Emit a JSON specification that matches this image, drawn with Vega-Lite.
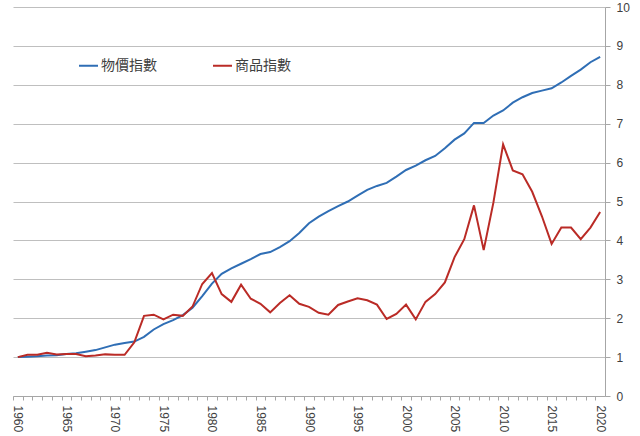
{
  "$schema": "https://vega.github.io/schema/vega-lite/v6.json",
  "width": 592,
  "height": 389,
  "autosize": "none",
  "padding": {"left": 13, "top": 7, "right": 35, "bottom": 40},
  "background": "white",
  "config": {"view": {"stroke": null}, "font": "Liberation Sans"},
  "data": {"values": [
    {"year": 1960, "物價指數": 1.00, "商品指數": 1.00},
    {"year": 1961, "物價指數": 1.01, "商品指數": 1.06},
    {"year": 1962, "物價指數": 1.02, "商品指數": 1.06},
    {"year": 1963, "物價指數": 1.04, "商品指數": 1.11},
    {"year": 1964, "物價指數": 1.05, "商品指數": 1.07},
    {"year": 1965, "物價指數": 1.08, "商品指數": 1.08},
    {"year": 1966, "物價指數": 1.10, "商品指數": 1.08},
    {"year": 1967, "物價指數": 1.14, "商品指數": 1.02},
    {"year": 1968, "物價指數": 1.18, "商品指數": 1.04},
    {"year": 1969, "物價指數": 1.25, "商品指數": 1.07},
    {"year": 1970, "物價指數": 1.32, "商品指數": 1.06},
    {"year": 1971, "物價指數": 1.36, "商品指數": 1.06},
    {"year": 1972, "物價指數": 1.40, "商品指數": 1.38},
    {"year": 1973, "物價指數": 1.52, "商品指數": 2.06},
    {"year": 1974, "物價指數": 1.71, "商品指數": 2.09},
    {"year": 1975, "物價指數": 1.85, "商品指數": 1.97},
    {"year": 1976, "物價指數": 1.95, "商品指數": 2.09},
    {"year": 1977, "物價指數": 2.08, "商品指數": 2.06},
    {"year": 1978, "物價指數": 2.27, "商品指數": 2.30},
    {"year": 1979, "物價指數": 2.57, "商品指數": 2.88},
    {"year": 1980, "物價指數": 2.89, "商品指數": 3.16},
    {"year": 1981, "物價指數": 3.14, "商品指數": 2.62},
    {"year": 1982, "物價指數": 3.28, "商品指數": 2.42},
    {"year": 1983, "物價指數": 3.40, "商品指數": 2.86},
    {"year": 1984, "物價指數": 3.52, "商品指數": 2.50},
    {"year": 1985, "物價指數": 3.65, "商品指數": 2.37},
    {"year": 1986, "物價指數": 3.70, "商品指數": 2.15},
    {"year": 1987, "物價指數": 3.83, "商品指數": 2.39},
    {"year": 1988, "物價指數": 3.98, "商品指數": 2.59},
    {"year": 1989, "物價指數": 4.19, "商品指數": 2.37},
    {"year": 1990, "物價指數": 4.44, "商品指數": 2.29},
    {"year": 1991, "物價指數": 4.61, "商品指數": 2.14},
    {"year": 1992, "物價指數": 4.75, "商品指數": 2.09},
    {"year": 1993, "物價指數": 4.88, "商品指數": 2.34},
    {"year": 1994, "物價指數": 5.00, "商品指數": 2.43},
    {"year": 1995, "物價指數": 5.15, "商品指數": 2.51},
    {"year": 1996, "物價指數": 5.30, "商品指數": 2.46},
    {"year": 1997, "物價指數": 5.40, "商品指數": 2.35},
    {"year": 1998, "物價指數": 5.48, "商品指數": 1.98},
    {"year": 1999, "物價指數": 5.64, "商品指數": 2.11},
    {"year": 2000, "物價指數": 5.81, "商品指數": 2.35},
    {"year": 2001, "物價指數": 5.92, "商品指數": 1.97},
    {"year": 2002, "物價指數": 6.06, "商品指數": 2.42},
    {"year": 2003, "物價指數": 6.17, "商品指數": 2.62},
    {"year": 2004, "物價指數": 6.37, "商品指數": 2.92},
    {"year": 2005, "物價指數": 6.59, "商品指數": 3.57},
    {"year": 2006, "物價指數": 6.75, "商品指數": 4.03},
    {"year": 2007, "物價指數": 7.02, "商品指數": 4.90},
    {"year": 2008, "物價指數": 7.02, "商品指數": 3.75},
    {"year": 2009, "物價指數": 7.21, "商品指數": 4.97},
    {"year": 2010, "物價指數": 7.34, "商品指數": 6.47},
    {"year": 2011, "物價指數": 7.54, "商品指數": 5.80},
    {"year": 2012, "物價指數": 7.68, "商品指數": 5.70},
    {"year": 2013, "物價指數": 7.79, "商品指數": 5.25},
    {"year": 2014, "物價指數": 7.85, "商品指數": 4.62},
    {"year": 2015, "物價指數": 7.91, "商品指數": 3.91},
    {"year": 2016, "物價指數": 8.06, "商品指數": 4.33},
    {"year": 2017, "物價指數": 8.23, "商品指數": 4.33},
    {"year": 2018, "物價指數": 8.39, "商品指數": 4.03},
    {"year": 2019, "物價指數": 8.58, "商品指數": 4.33},
    {"year": 2020, "物價指數": 8.72, "商品指數": 4.73}
  ]},
  "transform": [{"fold": ["物價指數", "商品指數"], "as": ["series", "value"]}],
  "mark": {"type": "line", "strokeWidth": 2},
  "encoding": {
    "x": {
      "field": "year",
      "type": "quantitative",
      "scale": {"domain": [1959.5, 2020.5], "nice": false, "zero": false},
      "axis": {
        "title": null,
        "grid": false,
        "values": [1960,1961,1962,1963,1964,1965,1966,1967,1968,1969,1970,1971,1972,1973,1974,1975,1976,1977,1978,1979,1980,1981,1982,1983,1984,1985,1986,1987,1988,1989,1990,1991,1992,1993,1994,1995,1996,1997,1998,1999,2000,2001,2002,2003,2004,2005,2006,2007,2008,2009,2010,2011,2012,2013,2014,2015,2016,2017,2018,2019,2020],
        "format": "d",
        "labelExpr": "datum.value % 5 == 0 ? datum.label : ''",
        "labelAngle": 90,
        "labelAlign": "left",
        "labelBaseline": "middle",
        "labelOverlap": false,
        "labelFlush": false,
        "tickOffset": -4.85,
        "labelOffset": 4.85,
        "tickSize": 4,
        "labelPadding": 5,
        "domainColor": "#A6A6A6",
        "tickColor": "#A6A6A6",
        "labelColor": "#404040",
        "labelFontSize": 12
      }
    },
    "y": {
      "field": "value",
      "type": "quantitative",
      "scale": {"domain": [0, 10], "nice": false},
      "axis": {
        "orient": "right",
        "title": null,
        "values": [0,1,2,3,4,5,6,7,8,9,10],
        "format": "d",
        "tickSize": 5,
        "labelPadding": 6,
        "gridColor": "#BFBFBF",
        "domainColor": "#A6A6A6",
        "tickColor": "#A6A6A6",
        "labelColor": "#404040",
        "labelFontSize": 12,
        "labelFlush": false
      }
    },
    "color": {
      "field": "series",
      "type": "nominal",
      "scale": {"domain": ["物價指數", "商品指數"], "range": ["#2F6EB5", "#BA2B26"]},
      "legend": {
        "title": null,
        "orient": "none",
        "legendX": 65,
        "legendY": 48,
        "direction": "horizontal",
        "symbolType": "stroke",
        "symbolSize": 361,
        "symbolStrokeWidth": 2,
        "labelOffset": 2,
        "labelFont": "Noto Sans CJK TC",
        "labelFontSize": 14,
        "labelColor": "#404040",
        "columnPadding": 52,
        "padding": 0
      }
    }
  }
}
